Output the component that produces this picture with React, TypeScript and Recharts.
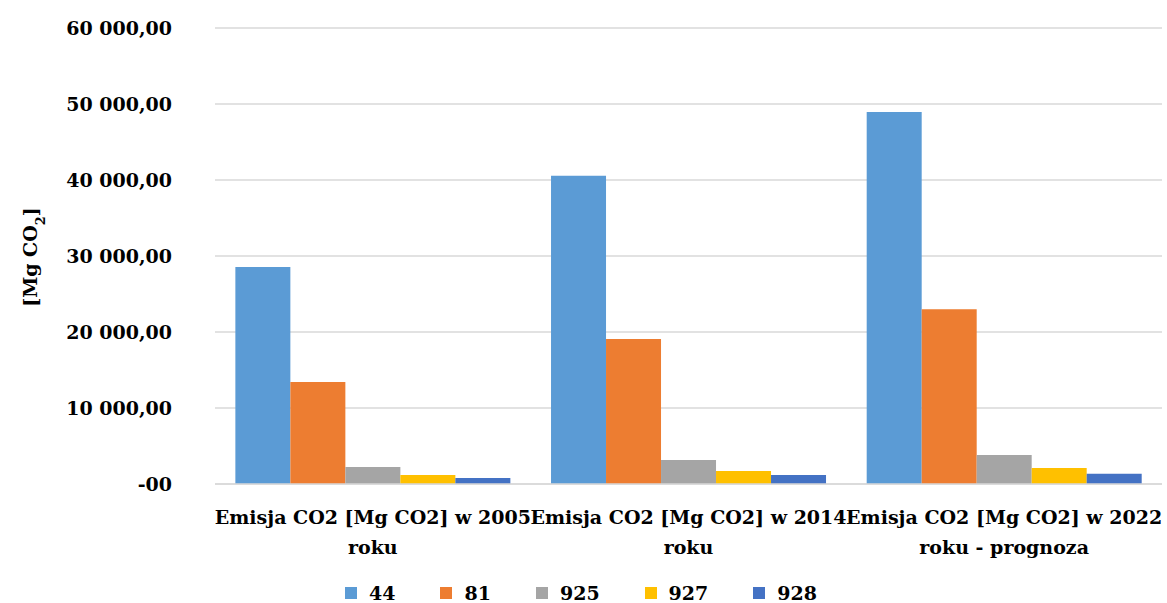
import { BarChart, Bar, XAxis, YAxis, CartesianGrid, Legend } from 'recharts';

const labelLine1 = [
  'Emisja CO2 [Mg CO2] w 2005',
  'Emisja CO2 [Mg CO2] w 2014',
  'Emisja CO2 [Mg CO2] w 2022',
];
const labelLine2 = ['roku', 'roku', 'roku - prognoza'];

const seriesNames = ['44', '81', '925', '927', '928'];
const seriesColors = ['#5B9BD5', '#ED7D31', '#A5A5A5', '#FFC000', '#4472C4'];

const s44 = [28550, 40570, 48950];
const s81 = [13420, 19080, 22990];
const s925 = [2240, 3160, 3820];
const s927 = [1180, 1710, 2100];
const s928 = [790, 1180, 1360];

const yTicks = [0, 10000, 20000, 30000, 40000, 50000, 60000];
const yTickLabels = ['-00', '10 000,00', '20 000,00', '30 000,00', '40 000,00', '50 000,00', '60 000,00'];

const seriesValues = [s44, s81, s925, s927, s928];
const data = labelLine1.map((l1, i) => {
  const row: Record<string, string | number> = { name: l1 + ' ' + labelLine2[i], idx: i };
  seriesNames.forEach((s, j) => {
    row[s] = seriesValues[j][i];
  });
  return row;
});

const FONT = '"DejaVu Serif", serif';

const CategoryTick = (props: any) => {
  const { x, y, payload } = props;
  const i = payload.index;
  return (
    <text x={x} y={y} textAnchor="middle" fontFamily={FONT} fontWeight="bold" fontSize={19} fill="#000">
      <tspan x={x} dy={32}>{labelLine1[i]}</tspan>
      <tspan x={x} dy={30}>{labelLine2[i]}</tspan>
    </text>
  );
};

const LegendContent = () => (
  <div style={{ height: 30, paddingTop: 10, boxSizing: 'border-box', display: 'flex', justifyContent: 'center', fontFamily: FONT, fontWeight: 'bold', fontSize: 19, lineHeight: '20px' }}>
    {seriesNames.map((s, i) => (
      <div key={s} style={{ display: 'flex', alignItems: 'center', marginRight: i < seriesNames.length - 1 ? 45 : 0 }}>
        <span style={{ display: 'inline-block', width: 12, height: 12, background: seriesColors[i], marginRight: 12 }} />
        <span>{s}</span>
      </div>
    ))}
  </div>
);

export default function App() {
  return (
    <div style={{ position: 'absolute', left: 0, top: 0, width: 1167, height: 603, background: '#fff' }}>
      <BarChart
        width={1167}
        height={603}
        data={data}
        margin={{ top: 28, right: 5, bottom: 0, left: 0 }}
        barCategoryGap="6.45%"
        barGap={0}
      >
        <CartesianGrid vertical={false} stroke="#d9d9d9" strokeWidth={1.5} />
        <XAxis
          dataKey="name"
          tickLine={false}
          axisLine={{ stroke: '#d9d9d9', strokeWidth: 1.5 }}
          height={89}
          interval={0}
          tick={<CategoryTick />}
        />
        <YAxis
          width={215}
          domain={[0, 60000]}
          ticks={yTicks}
          tickLine={false}
          axisLine={false}
          tickSize={0}
          tickMargin={43}
          tickFormatter={(v: number) => yTickLabels[yTicks.indexOf(v)]}
          tick={{ fontFamily: FONT, fontWeight: 'bold', fontSize: 19, fill: '#000' }}
        />
        <Legend verticalAlign="bottom" content={<LegendContent />} />
        {seriesNames.map((s, i) => (
          <Bar key={s} dataKey={s} fill={seriesColors[i]} isAnimationActive={false} />
        ))}
      </BarChart>
      <svg width={70} height={603} style={{ position: 'absolute', left: 0, top: 0, pointerEvents: 'none' }}>
        <text x={37} y={257} transform="rotate(-90 37 257)" textAnchor="middle" fontFamily={FONT} fontWeight="bold" fontSize={19} fill="#000">
          [Mg CO<tspan baselineShift="sub" fontSize={13}>2</tspan>]
        </text>
      </svg>
    </div>
  );
}
